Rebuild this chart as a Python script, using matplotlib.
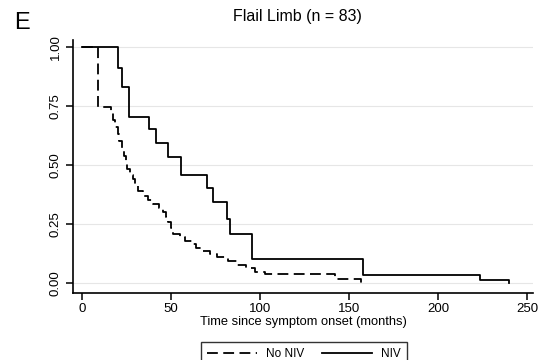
import matplotlib
matplotlib.use("Agg")
import matplotlib.pyplot as plt

# ---- data ----
niv_t = [0, 20.4, 22.3, 26.4, 37.8, 41.4, 48.5, 55.4, 70.4, 73.8, 81.3, 83.1, 95.3, 157.7, 223.6, 240]
niv_s = [1.0, 0.912, 0.832, 0.705, 0.651, 0.592, 0.533, 0.458, 0.404, 0.342, 0.270, 0.208, 0.100, 0.034, 0.014, 0.0]

noniv_t = [0, 9.2, 16.5, 17.5, 18.5, 20, 21, 22.5, 23.5, 24.5, 25.5, 27, 28.5, 30, 31.5, 34, 37, 40,
           43, 45.5, 47, 48.5, 50, 51, 55, 58, 62, 64, 68, 72, 76, 82, 87, 92, 97, 103, 142, 157]
noniv_s = [1.0, 0.747, 0.72, 0.69, 0.66, 0.63, 0.60, 0.57, 0.54, 0.51, 0.485, 0.46, 0.44, 0.415, 0.39,
           0.37, 0.35, 0.335, 0.32, 0.30, 0.28, 0.26, 0.235, 0.21, 0.195, 0.18, 0.165, 0.15, 0.137,
           0.125, 0.11, 0.095, 0.077, 0.065, 0.048, 0.038, 0.017, 0.0]

x_ticks = [0, 50, 100, 150, 200, 250]
y_ticks = [0.0, 0.25, 0.5, 0.75, 1.0]
y_ticklabels = ["0.00", "0.25", "0.50", "0.75", "1.00"]

plt.rcParams['font.family'] = ['Liberation Sans', 'DejaVu Sans']

fig = plt.figure(figsize=(5.38, 3.6), dpi=100)
ax = fig.add_axes([73/538, 1-293/360, (533-73)/538, (293-40)/360])

ax.step(noniv_t, noniv_s, where='post', color='black', lw=1.3,
        linestyle=(0, (6, 3)), label='No NIV')
ax.step(niv_t, niv_s, where='post', color='black', lw=1.3, label='NIV')

ax.set_xlim(-5.06, 253.4)
ax.set_ylim(-0.042, 1.03)
ax.set_xticks(x_ticks)
ax.set_yticks(y_ticks)
ax.set_yticklabels(y_ticklabels, rotation=90, va='center')
ax.tick_params(axis='both', direction='out', length=5, width=1.1, labelsize=9.5, colors='black')
ax.tick_params(axis='x', pad=2)
ax.tick_params(axis='y', pad=3)

ax.grid(axis='y', color='#e6e6e6', lw=0.8)
ax.set_axisbelow(True)
for s in ['top', 'right']:
    ax.spines[s].set_visible(False)
for s in ['left', 'bottom']:
    ax.spines[s].set_linewidth(1.2)

ax.set_xlabel('Time since symptom onset (months)', fontsize=9.3, labelpad=1)
fig.text(297/538, 1-17/360, 'Flail Limb (n = 83)', ha='center', va='center', fontsize=11.5)
fig.text(22/538, 1-23/360, 'E', ha='center', va='center', fontsize=17)

leg = ax.legend(loc='upper center', bbox_to_anchor=(304/538, 1-336/360), bbox_transform=fig.transFigure,
                ncol=2, frameon=True, fancybox=False, fontsize=8.5, handlelength=4.2,
                columnspacing=1.5, handletextpad=0.8, borderpad=0.5)
leg.get_frame().set_edgecolor('black')
leg.get_frame().set_linewidth(1.0)

fig.savefig('out.png', dpi=100)
